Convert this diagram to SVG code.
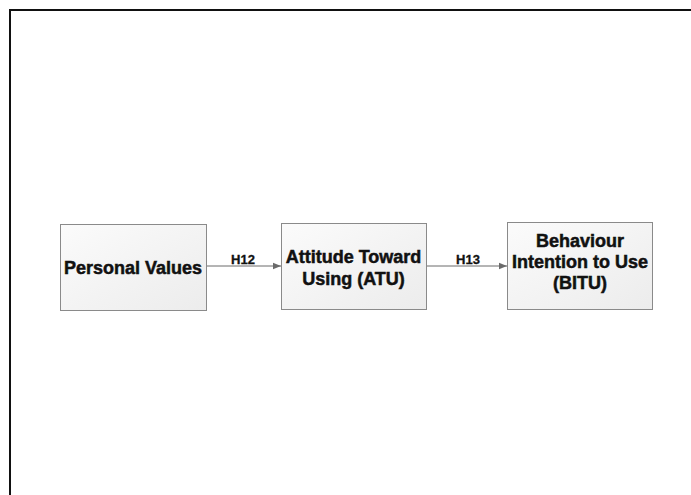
<svg xmlns="http://www.w3.org/2000/svg" width="691" height="495" viewBox="0 0 691 495">
  <defs>
    <linearGradient id="boxFill" x1="0" y1="0" x2="1" y2="1">
      <stop offset="0" stop-color="#fbfbfb"/>
      <stop offset="1" stop-color="#ececec"/>
    </linearGradient>
    <marker id="arrow" viewBox="0 0 8 8" refX="8" refY="4" markerWidth="8" markerHeight="8" markerUnits="userSpaceOnUse" orient="auto">
      <path d="M0,0.8 L8,4 L0,7.2 Z" fill="#6a6a6a"/>
    </marker>
    <style>
      .box { fill: url(#boxFill); stroke: #8a8a8a; stroke-width: 1; }
      .label { font-family: "Liberation Sans", Arial, sans-serif; font-weight: bold; font-size: 18px; fill: #111; stroke: #111; stroke-width: 0.5; text-anchor: middle; }
      .edge-label { font-family: "Liberation Sans", Arial, sans-serif; font-weight: bold; font-size: 13px; fill: #111; stroke: #111; stroke-width: 0.3; text-anchor: middle; }
      .edge { stroke: #6a6a6a; stroke-width: 1; fill: none; marker-end: url(#arrow); }
    </style>
  </defs>

  <rect width="691" height="495" fill="#ffffff"/>
  <!-- frame: top and left edges -->
  <path d="M10,495 L10,10 L691,10" fill="none" stroke="#111" stroke-width="2"/>

  <g id="personal-values">
    <rect class="box" x="60.5" y="224.5" width="146" height="86"/>
    <text class="label" x="133" y="274">Personal Values</text>
  </g>

  <g id="atu">
    <rect class="box" x="281.5" y="223.5" width="145" height="86"/>
    <text class="label" x="353.5" y="263">Attitude Toward</text>
    <text class="label" x="353.5" y="285">Using (ATU)</text>
  </g>

  <g id="bitu">
    <rect class="box" x="507.5" y="222.5" width="145" height="87"/>
    <text class="label" x="580" y="247">Behaviour</text>
    <text class="label" x="580" y="268">Intention to Use</text>
    <text class="label" x="580" y="289">(BITU)</text>
  </g>

  <g id="connectors">
    <line class="edge" x1="207" y1="266" x2="281" y2="266"/>
    <text class="edge-label" x="243" y="264">H12</text>
    <line class="edge" x1="427" y1="266" x2="507" y2="266"/>
    <text class="edge-label" x="468" y="264">H13</text>
  </g>
</svg>
